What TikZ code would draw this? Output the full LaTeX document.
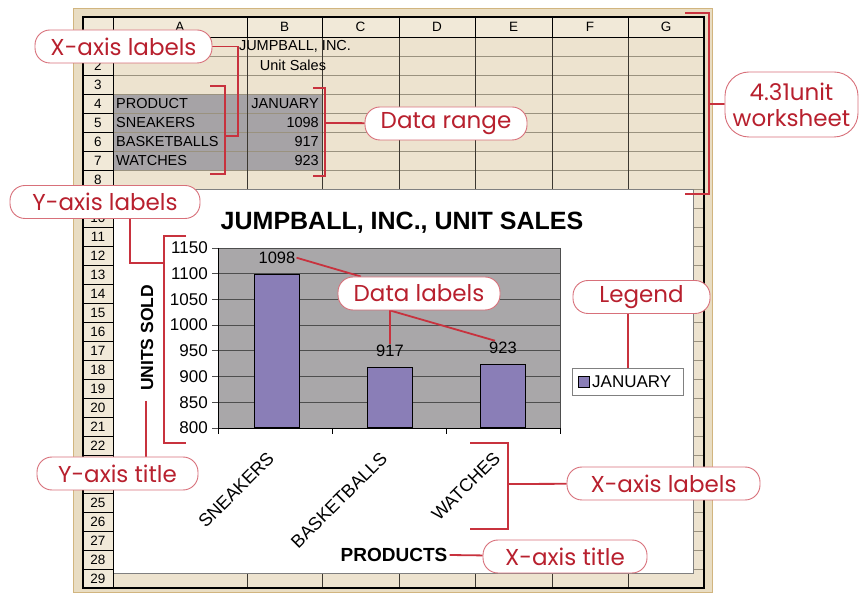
\documentclass[tikz,border=0pt]{standalone}
\usepackage{fontspec}
\setmainfont{Liberation Sans}
\newfontfamily\callfont{Poppins}
\definecolor{callred}{HTML}{B8202E}
\definecolor{callline}{HTML}{D8707A}
\definecolor{leadred}{HTML}{C8323E}
\definecolor{cellbg}{HTML}{EDE3CF}
\definecolor{band}{HTML}{E9DDC3}
\definecolor{frametan}{HTML}{D1B57F}
\definecolor{hdrbg}{HTML}{F1E9D8}
\definecolor{rangegray}{HTML}{A6A3A6}
\definecolor{plotgray}{HTML}{A9A7A9}
\definecolor{gridgray}{HTML}{4E4E4E}
\definecolor{barpurple}{HTML}{8A7EB7}
\definecolor{rowline}{HTML}{9A927F}
\definecolor{colline}{HTML}{3C3830}
\pgfdeclarelayer{front}
\pgfsetlayers{main,front}

\begin{document}
\begin{tikzpicture}[x=1pt, y=-1pt,
	cell/.style={font=\fontsize{14.5}{16}\selectfont, inner sep=2pt},
	hdr/.style={font=\fontsize{13.5}{15}\selectfont, inner sep=0pt},
	call/.style={draw=callline, line width=0.9pt, fill=white, rounded corners=15pt, text=callred, font=\callfont\fontsize{23}{26}\selectfont, inner sep=0pt, minimum height=33pt},
	lead/.style={draw=leadred, line width=1.8pt},
	axnum/.style={font=\fontsize{17}{18}\selectfont, anchor=east, inner sep=0pt},
	vlab/.style={font=\fontsize{16.5}{18}\selectfont, inner sep=1pt},
	catlab/.style={font=\fontsize{18}{20}\selectfont, rotate=45, anchor=east, inner sep=0pt},
	bold/.style={font=\bfseries\fontsize{#1}{#1}\selectfont, inner sep=2pt}]
	
	\useasboundingbox (0,0) rectangle (860,593);
	\fill[white] (0,0) rectangle (860,593);
	
	% worksheet
	\draw[draw=frametan, fill=band, line width=1pt] (73,9) rectangle (712,592);
	\fill[cellbg] (113,37) rectangle (704,588);
	\fill[rangegray] (113,94) rectangle (322,170);
	\foreach \r in {1,...,28}
	\draw[rowline, line width=0.6pt] (113,{37+19*\r}) -- (704,{37+19*\r});
	\foreach \c in {247,322,399,475,552,628}
	\draw[colline, line width=0.9pt] (\c,17) -- (\c,588);
	
	% chart sheet
	\fill[white, draw=gray, line width=0.6pt] (113,189) rectangle (693,573);
	
	% headers
	\fill[hdrbg] (83,17) rectangle (704,37);
	\fill[hdrbg] (83,37) rectangle (113,588);
	\foreach \r in {1,...,29}
	\draw[black, line width=0.8pt] (83,{18+19*\r}) -- (113,{18+19*\r});
	\foreach \r in {2,...,8,10,11,...,22,25,26,...,29}
	\node[hdr] (row\r) at (98,{28+19*\r}) {\r};
	\foreach \col/\cx in {A/180,B/284.5,C/360.5,D/437,E/513.5,F/590,G/666}
	\node[hdr] (col\col) at (\cx,27) {\col};
	\foreach \c in {247,322,399,475,552,628}
	\draw[black, line width=0.8pt] (\c,17) -- (\c,37);
	\draw[black, line width=0.8pt] (83,37) -- (704,37);
	\draw[black, line width=0.8pt] (113,17) -- (113,588);
	\draw[black, line width=1.3pt] (83,17) rectangle (704,588);
	
	% cell texts
	\node[cell] (a1) at (295,46.5) {JUMPBALL, INC.};
	\node[cell] (a2) at (293,65.5) {Unit Sales};
	\foreach \r/\prod/\num in {4/PRODUCT/JANUARY,5/SNEAKERS/1098,6/BASKETBALLS/917,7/WATCHES/923}{
		\node[cell, anchor=west] (a\r) at (114,{27.5+19*\r}) {\prod};
		\node[cell, anchor=east] (b\r) at (321,{27.5+19*\r}) {\num};
	}
	
	% chart
	\node[bold=25] (ctitle) at (402,223) {JUMPBALL, INC., UNIT SALES};
	\fill[plotgray] (218,248) rectangle (560,428);
	\draw[gridgray, line width=0.5pt] (560,248) -- (560,428);
	\foreach \v [count=\k from 0] in {1150,1100,...,800}{
		\draw[gridgray, line width=0.8pt] (212,{248+25.714*\k}) -- (560,{248+25.714*\k});
		\node[axnum] (y\v) at (208,{248+25.714*\k}) {\v};
	}
	\draw[black, line width=0.9pt] (218,248) -- (218,428) -- (560,428);
	\foreach \tx in {218,332,446,560}
	\draw[black, line width=0.8pt] (\tx,428) -- (\tx,434);
	\foreach \cx/\val in {277/1098,390/917,503/923}{
		\draw[fill=barpurple, line width=1pt] ({\cx-22.5},428) rectangle ({\cx+22.5},{428-(\val-800)/350*180});
		\node[vlab] (v\val) at (\cx,{428-(\val-800)/350*180-17}) {\val};
	}
	\foreach \cx/\nm in {277/SNEAKERS,390/BASKETBALLS,503/WATCHES}
	\node[catlab] (c\nm) at ({\cx-6},455) {\nm};
	\node[bold=17.5, rotate=90] (ytitle) at (147,338) {UNITS SOLD};
	\node[bold=19] (xtitle) at (394,555) {PRODUCTS};
	
	% legend
	\node[draw=gray, fill=white, line width=0.8pt, minimum width=111pt, minimum height=27pt] (legbox) at (628,381.5) {};
	\node[draw, fill=barpurple, minimum size=11pt, inner sep=0pt] (legkey) at (583.5,382) {};
	\node[anchor=west, font=\fontsize{17}{18}\selectfont, inner sep=0pt] (legtxt) at (592,382) {JANUARY};
	
	% callouts
	\begin{pgfonlayer}{front}
		\node[call, minimum width=177pt] (xlab1) at (123.5,46.5) {X-axis labels};
		\node[call, minimum width=162pt] (drange) at (446,123.5) {Data range};
		\node[call, minimum width=133pt, minimum height=65pt, rounded corners=24pt, align=center] (wsheet) at (791.5,104.5) {4.31unit\\worksheet};
		\node[call, minimum width=190pt] (ylab) at (105,202) {Y-axis labels};
		\node[call, minimum width=162pt] (dlab) at (419,293.5) {Data labels};
		\node[call, minimum width=137pt] (legendc) at (641.5,297) {Legend};
		\node[call, minimum width=161pt] (ytit) at (117.5,473.5) {Y-axis title};
		\node[call, minimum width=193pt] (xlab2) at (663.5,483.5) {X-axis labels};
		\node[call, minimum width=164pt] (xtit) at (565,556.5) {X-axis title};
	\end{pgfonlayer}
	
	% brackets
	\coordinate (xb1a) at (210,86);
	\coordinate (xb1b) at (210,174);
	\coordinate (xb1j) at (225,136);
	\coordinate (dra) at (313,88);
	\coordinate (drb) at (313,176);
	\coordinate (drj) at (325,123);
	\coordinate (wsa) at (685,13);
	\coordinate (wsb) at (685,194);
	\coordinate (wsj) at (709,104);
	\coordinate (yla) at (186,236);
	\coordinate (ylb) at (186,443);
	\coordinate (ylj) at (164,263);
	\coordinate (xb2a) at (470,443);
	\coordinate (xb2b) at (470,529);
	\coordinate (xb2j) at (508,484);
	\coordinate (ytj) at (146,401);
	\coordinate (lgj) at (628,368);
	\foreach \a/\b/\w in {xb1a/xb1b/15,dra/drb/12,wsa/wsb/24,yla/ylb/-22,xb2a/xb2b/38}
	\draw[lead] (\a) -- ++(\w,0) |- (\b);
	
	% leaders
	\draw[lead] (xlab1.east) -| ([xshift=13pt]xb1j) -- (xb1j);
	\foreach \from/\to in {drange/drj,wsheet/wsj,xlab2/xb2j,xtitle.east/xtit}
	\draw[lead] (\from) -- (\to);
	\draw[lead] ([xshift=25pt]ylab.center) |- (ylj);
	\draw[lead] (ytj) -- ++(0,70);
	\draw[lead] (lgj) -- ++(0,-70);
	\draw[lead] (v1098.east) -- (dlab);
	\coordinate (dlj) at (v917.north |- dlab.south);
	\draw[lead] (v917.north) -- (dlj) -- ([xshift=-8pt]v923.north);
	\draw[lead] (dlj) -- (dlj |- dlab.center);
\end{tikzpicture}
\end{document}
